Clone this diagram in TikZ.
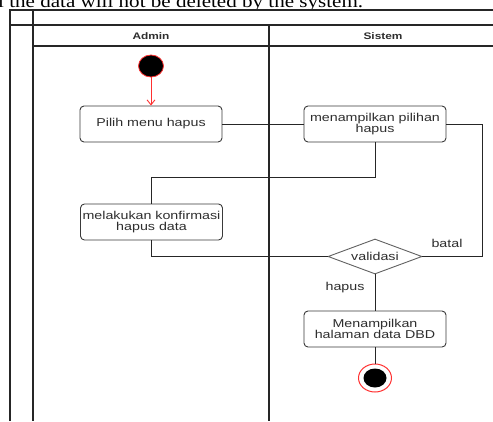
\documentclass[tikz,border=0pt]{standalone}
\usepackage{fontspec}
\setmainfont{Liberation Serif}
\newfontfamily\lanefont[FakeStretch=1.25]{Liberation Sans}
\newfontfamily\topfont[FakeStretch=1.17]{Liberation Serif}
\usetikzlibrary{shapes.geometric,arrows.meta}
\definecolor{txt}{HTML}{2E2E2E}
\definecolor{edge}{HTML}{3A3A3A}
\definecolor{startred}{HTML}{FF3030}
\begin{document}
\begin{tikzpicture}[x=1pt,y=-1pt,
  frame/.style={draw=black!85, line width=1.2pt},
  act/.style={draw=edge, line width=0.9pt, rounded corners=4pt, fill=white,
    minimum width=142pt, minimum height=36pt, inner sep=1pt, align=center,
    font=\lanefont\fontsize{11.4}{12.4}\selectfont, text=txt},
  dec/.style={draw=edge!80, line width=0.9pt, diamond, aspect=2.7, fill=white,
    minimum width=94pt, minimum height=35pt, inner sep=0pt,
    font=\lanefont\fontsize{11.4}{12.4}\selectfont, text=txt},
  flow/.style={draw=black!85, line width=0.9pt},
  lbl/.style={font=\lanefont\fontsize{11.4}{12.4}\selectfont, text=txt},
  hdr/.style={font=\lanefont\bfseries\fontsize{9.5}{11}\selectfont, text=txt}
]
\useasboundingbox (0,0) rectangle (493,421);
\fill[white] (0,0) rectangle (493,421);
% top clipped sentence
\node[anchor=base west, inner sep=0pt, font=\topfont\fontsize{18}{20}\selectfont] (toptext) at (-2,7.5) {l the data will not be deleted by the system.};
% frame
\draw[frame] (10,421) -- (10,10) -- (493,10);
\draw[frame] (33,10) -- (33,421);
\draw[frame] (10,25) -- (493,25);
\draw[frame] (33,46) -- (493,46);
\draw[frame] (269,25) -- (269,421);
\node[hdr] (hadmin) at (151,36) {Admin};
\node[hdr] (hsistem) at (383,36) {Sistem};
% nodes
\node[ellipse, fill=black, draw=startred, line width=0.8pt, minimum width=25pt, minimum height=22pt, inner sep=0pt] (start) at (151,66) {};
\node[act] (pilih) at (151,124) {Pilih menu hapus};
\node[act] (tampil) at (375,124) {menampilkan pilihan\\[-1pt]hapus};
\node[act] (konf) at (151.5,222) {melakukan konfirmasi\\[-1pt]hapus data};
\node[dec] (val) at (375,256.5) {validasi};
\node[act] (hal) at (375,329) {Menampilkan\\[-1pt]halaman data DBD};
\node[ellipse, draw=startred, line width=1pt, fill=white, minimum width=33pt, minimum height=28pt, inner sep=0pt] (endo) at (375,378) {};
\node[ellipse, fill=black, minimum width=23pt, minimum height=19pt, inner sep=0pt] (endi) at (375,378) {};
% connectors
\coordinate (rc) at (482,124);
\coordinate (mid) at (375,177);
\draw[draw=startred, line width=0.9pt, -{Straight Barb[length=5pt,width=8pt]}] (start) -- (pilih.north);
\draw[flow] (pilih.east) -- (tampil.west);
\draw[flow] (tampil.east) -- (rc) |- (val.east);
\draw[flow] (tampil.south) -- (mid) -| (konf.north);
\draw[flow] (konf.south) |- (val.west);
\draw[flow] (val.south) -- (hal.north);
\draw[flow] (hal.south) -- (endo.north);
\node[lbl] (batal) at (447,243) {batal};
\node[lbl] (hapus) at (345,288) {hapus};
\end{tikzpicture}
\end{document}
